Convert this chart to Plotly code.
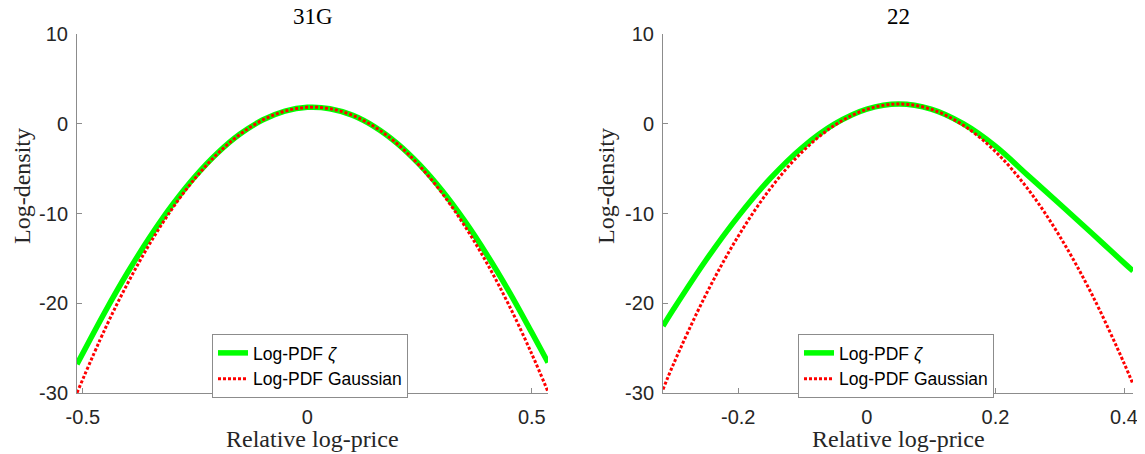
import plotly.graph_objects as go

# ---- Data ----
# Left panel "31G"
x_31g = [-0.513, -0.45, -0.4, -0.35, -0.3, -0.25, -0.2, -0.15, -0.1, -0.05, 0.0,
         0.05, 0.1, 0.15, 0.2, 0.25, 0.3, 0.35, 0.4, 0.45, 0.5, 0.536]
zeta_31g = [-26.8, -20.9, -16.55, -12.57, -8.99, -5.88, -3.26, -1.15, 0.41, 1.41, 1.83,
            1.68, 0.96, -0.34, -2.18, -4.56, -7.44, -10.80, -14.59, -18.76, -23.28, -26.6]
gauss_31g = [-29.98, -22.80, -17.76, -13.29, -9.39, -6.08, -3.34, -1.18, 0.40, 1.41, 1.83,
             1.68, 0.96, -0.35, -2.23, -4.69, -7.73, -11.35, -15.54, -20.31, -25.66, -29.86]

# Right panel "22"
x_22 = [-0.317, -0.3, -0.25, -0.2, -0.15, -0.1, -0.05, 0.0, 0.05, 0.1, 0.15, 0.2,
        0.25, 0.3, 0.35, 0.4, 0.414]
zeta_22 = [-22.53, -20.59, -15.18, -10.32, -6.09, -2.62, -0.02, 1.63, 2.20, 1.63, 0.0,
           -2.5, -5.72, -8.95, -12.2, -15.5, -16.4]
gauss_22 = [-29.6, -26.66, -19.00, -12.53, -7.22, -3.10, -0.16, 1.61, 2.20, 1.61, -0.16,
            -3.10, -7.22, -12.53, -19.00, -26.66, -29.02]

titles = ["31G", "22"]
x_ticks_31g = [-0.5, 0, 0.5]
x_ticks_22 = [-0.2, 0, 0.2, 0.4]
y_ticks = [-30, -20, -10, 0, 10]
legend_names = ["Log-PDF <i>ζ</i>", "Log-PDF Gaussian"]

GREEN = "#00ff00"
RED = "#ff0000"
AXC = "#8c8c8c"
SERIF = "Liberation Serif, Times New Roman, serif"
SANS = "Liberation Sans, Arial, sans-serif"

# The page body has an 8px margin, so the figure is placed at (8, 8);
# all reference pixel positions are shifted by OFF.
OFF = 8
W, H = 1145 - OFF, 454 - OFF

def px(x):
    return (x - OFF) / W

def py(y):
    return (H - (y - OFF)) / H

# plot box pixel geometry (reference page pixels)
L1, R1 = 77, 548
L2, R2 = 663, 1133
TOP, BOT = 34, 393

fig = go.Figure()

panels = [
    (x_31g, zeta_31g, gauss_31g, "x", "y", "legend"),
    (x_22, zeta_22, gauss_22, "x2", "y2", "legend2"),
]
for xs, zs, gs, xa, ya, lg in panels:
    fig.add_trace(go.Scatter(x=xs, y=zs, mode="lines", name=legend_names[0],
                             line=dict(color=GREEN, width=5.5, shape="spline"),
                             xaxis=xa, yaxis=ya, legend=lg))
    fig.add_trace(go.Scatter(x=xs, y=gs, mode="lines", name=legend_names[1],
                             line=dict(color=RED, width=3, dash="3px,2px", shape="spline"),
                             xaxis=xa, yaxis=ya, legend=lg))

ydom = [py(BOT), py(TOP)]

def xax(dom, rng, ticks, anchor):
    return dict(domain=dom, range=rng, tickvals=ticks,
                ticktext=[("%g" % t) for t in ticks],
                showline=True, linecolor=AXC, linewidth=1, mirror=False,
                ticks="inside", ticklen=5, tickcolor=AXC, showgrid=False,
                zeroline=False, anchor=anchor, ticklabelstandoff=6,
                automargin=False,
                tickfont=dict(family=SANS, size=20, color="#262626"))

def yax(rng, anchor):
    return dict(domain=ydom, range=rng, tickvals=y_ticks,
                ticktext=[str(t) for t in y_ticks],
                showline=True, linecolor=AXC, linewidth=1, mirror=False,
                ticks="inside", ticklen=5, tickcolor=AXC, showgrid=False,
                zeroline=False, anchor=anchor, ticklabelstandoff=4,
                automargin=False,
                tickfont=dict(family=SANS, size=20, color="#262626"))

legend_style = dict(xanchor="left", yanchor="top",
                    bordercolor=AXC, borderwidth=1, bgcolor="white",
                    font=dict(family=SANS, size=17.5, color="black"),
                    itemwidth=30, tracegroupgap=0)

fig.update_layout(
    width=W, height=H,
    margin=dict(l=0, r=0, t=0, b=0, autoexpand=False),
    paper_bgcolor="white", plot_bgcolor="white",
    xaxis=xax([px(L1), px(R1)], [min(x_31g), max(x_31g)], x_ticks_31g, "y"),
    yaxis=yax([-30, 10], "x"),
    xaxis2=xax([px(L2), px(R2)], [min(x_22), max(x_22)], x_ticks_22, "y2"),
    yaxis2=yax([-30, 10], "x2"),
    legend=dict(x=px(212), y=py(334), **legend_style),
    legend2=dict(x=px(798), y=py(334), **legend_style),
    showlegend=True,
)

annotations = []
for (l, r), t in zip([(L1, R1), (L2, R2)], titles):
    cx = px((l + r) / 2)
    annotations.append(dict(text=t, x=cx, y=py(17), xref="paper", yref="paper",
                            xanchor="center", yanchor="middle", showarrow=False,
                            font=dict(family=SERIF, size=23, color="black")))
    annotations.append(dict(text="Relative log-price", x=cx, y=py(439),
                            xref="paper", yref="paper", xanchor="center",
                            yanchor="middle", showarrow=False,
                            font=dict(family=SERIF, size=24, color="#262626")))
for xl in [22, 606]:
    annotations.append(dict(text="Log-density", x=px(xl), y=py(186),
                            xref="paper", yref="paper", xanchor="center",
                            yanchor="middle", showarrow=False, textangle=-90,
                            font=dict(family=SERIF, size=24, color="#262626")))
fig.update_layout(annotations=annotations)

fig.write_html("out.html")
